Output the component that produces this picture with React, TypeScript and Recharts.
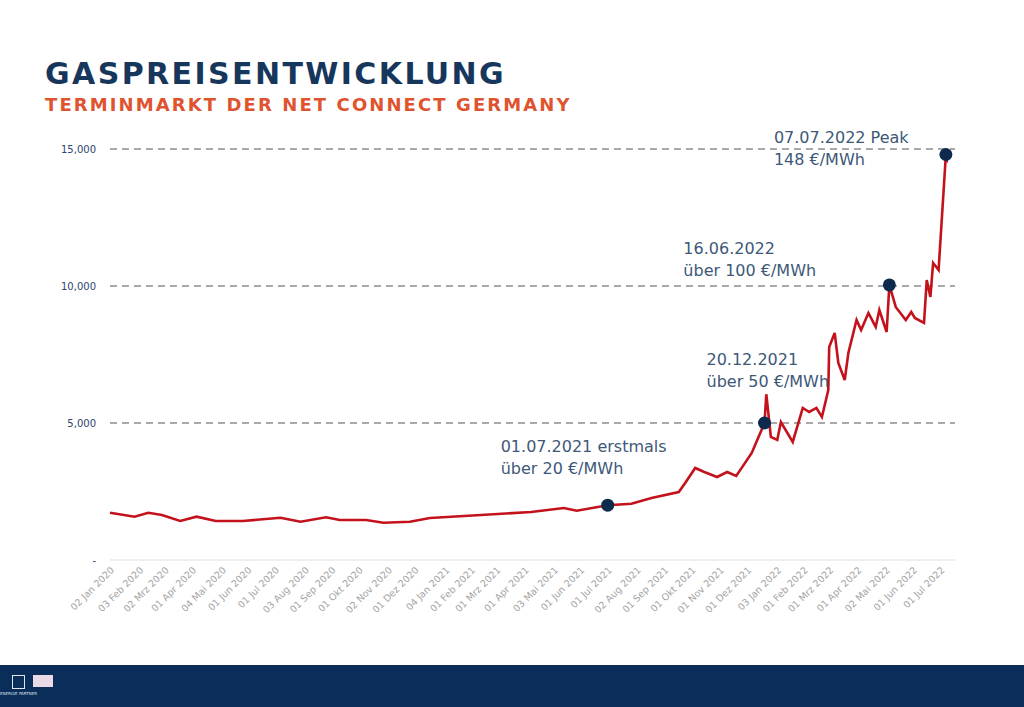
import { LineChart, Line, XAxis, YAxis, ReferenceLine, ReferenceDot } from "recharts";

// Gaspreis (Terminmarkt NCG), Werte wie im Original in ct-Skala (15,000 = 150 €/MWh)
const priceDates = [
  "2020-01-02", "2020-01-29", "2020-02-13", "2020-02-28", "2020-03-19", "2020-04-06",
  "2020-04-27", "2020-05-27", "2020-07-07", "2020-07-29", "2020-08-26", "2020-09-10",
  "2020-10-09", "2020-10-28", "2020-11-26", "2020-12-18", "2021-02-12", "2021-04-08",
  "2021-05-14", "2021-05-28", "2021-07-01", "2021-07-27", "2021-08-18", "2021-09-17",
  "2021-09-24", "2021-10-05", "2021-10-15", "2021-10-29", "2021-11-09", "2021-11-19",
  "2021-12-06", "2021-12-20", "2021-12-22", "2021-12-27", "2022-01-03", "2022-01-07",
  "2022-01-20", "2022-01-31", "2022-02-07", "2022-02-15", "2022-02-21", "2022-02-28",
  "2022-03-01", "2022-03-07", "2022-03-11", "2022-03-18", "2022-03-22", "2022-03-31",
  "2022-04-05", "2022-04-13", "2022-04-21", "2022-04-25", "2022-05-03", "2022-05-06",
  "2022-05-13", "2022-05-24", "2022-05-30", "2022-06-03", "2022-06-13", "2022-06-16",
  "2022-06-20", "2022-06-23", "2022-06-29", "2022-07-07", "2022-07-08",
];
const prices = [
  1726, 1580, 1726, 1643, 1424, 1580,
  1424, 1424, 1544, 1398, 1559, 1460,
  1460, 1362, 1398, 1533, 1643, 1752,
  1898, 1800, 2000, 2050, 2263, 2482,
  2810, 3358, 3212, 3030, 3212, 3066,
  3906, 5000, 6050, 4490, 4380, 5037,
  4307, 5548, 5402, 5548, 5220, 6205,
  7775, 8286, 7190, 6570, 7555, 8760,
  8395, 9015, 8505, 9125, 8322, 10040,
  9235, 8760, 9052, 8833, 8650, 10220,
  9600, 10840, 10585, 14800, 14500,
];

const tickDates = [
  "2020-01-02", "2020-02-03", "2020-03-02", "2020-04-01", "2020-05-04", "2020-06-01",
  "2020-07-01", "2020-08-03", "2020-09-01", "2020-10-01", "2020-11-02", "2020-12-01",
  "2021-01-04", "2021-02-01", "2021-03-01", "2021-04-01", "2021-05-03", "2021-06-01",
  "2021-07-01", "2021-08-02", "2021-09-01", "2021-10-01", "2021-11-01", "2021-12-01",
  "2022-01-03", "2022-02-01", "2022-03-01", "2022-04-01", "2022-05-02", "2022-06-01",
  "2022-07-01",
];
const tickLabels = [
  "02 Jan 2020", "03 Feb 2020", "02 Mrz 2020", "01 Apr 2020", "04 Mai 2020", "01 Jun 2020",
  "01 Jul 2020", "03 Aug 2020", "01 Sep 2020", "01 Okt 2020", "02 Nov 2020", "01 Dez 2020",
  "04 Jan 2021", "01 Feb 2021", "01 Mrz 2021", "01 Apr 2021", "03 Mai 2021", "01 Jun 2021",
  "01 Jul 2021", "02 Aug 2021", "01 Sep 2021", "01 Okt 2021", "01 Nov 2021", "01 Dez 2021",
  "03 Jan 2022", "01 Feb 2022", "01 Mrz 2022", "01 Apr 2022", "02 Mai 2022", "01 Jun 2022",
  "01 Jul 2022",
];

const yTicks = [0, 5000, 10000, 15000];
const gridLevels = [5000, 10000, 15000];

const markerDates = ["2021-07-01", "2021-12-20", "2022-05-06", "2022-07-07"];
const markerTexts = [
  ["01.07.2021 erstmals", "über 20 €/MWh"],
  ["20.12.2021", "über 50 €/MWh"],
  ["16.06.2022", "über 100 €/MWh"],
  ["07.07.2022 Peak", "148 €/MWh"],
];
// text offset relative to the dot (dx, baseline of first line)
const markerOffsets = [
  [-107, -53],
  [-58, -58],
  [-206, -31],
  [-172, -11],
];

const NAVY = "#0b2d5a";
const START = Date.parse("2020-01-02");
const dayOf = (iso: string) => Math.round((Date.parse(iso) - START) / 86400000);

const chartData = priceDates.map((d, i) => ({ day: dayOf(d), price: prices[i] }));
const tickDays = tickDates.map(dayOf);

const formatX = (v: number) => {
  const i = tickDays.indexOf(v);
  return i >= 0 ? tickLabels[i] : "";
};
const formatY = (v: number) => (v === 0 ? "-" : v.toLocaleString("en-US"));

function markerShape(lines: string[], off: number[]) {
  return (p: any) => (
    <g>
      <text
        x={p.cx + off[0]}
        y={p.cy + off[1]}
        fill="#3e5878"
        fontSize={16}
        fontFamily="DejaVu Sans, sans-serif"
      >
        <tspan x={p.cx + off[0]} dy="0">{lines[0]}</tspan>
        <tspan x={p.cx + off[0]} dy="22">{lines[1]}</tspan>
      </text>
      <circle cx={p.cx} cy={p.cy} r={6.5} fill="#0d2a4c" />
    </g>
  );
}

export default function App() {
  return (
    <div
      style={{
        position: "absolute",
        left: 0,
        top: 0,
        width: 1024,
        height: 707,
        background: "#ffffff",
        overflow: "hidden",
        fontFamily: "DejaVu Sans, sans-serif",
      }}
    >
      <div
        style={{
          position: "absolute",
          left: 45,
          top: 59,
          fontSize: 30,
          lineHeight: "30px",
          fontWeight: 700,
          color: "#17365c",
          letterSpacing: 2.4,
          whiteSpace: "nowrap",
        }}
      >
        GASPREISENTWICKLUNG
      </div>
      <div
        style={{
          position: "absolute",
          left: 45,
          top: 96,
          fontSize: 18,
          lineHeight: "18px",
          fontWeight: 700,
          color: "#e0532f",
          letterSpacing: 2.1,
          whiteSpace: "nowrap",
        }}
      >
        TERMINMARKT DER NET CONNECT GERMANY
      </div>

      <div style={{ position: "absolute", left: 0, top: 0 }}>
        <LineChart
          width={1024}
          height={707}
          data={chartData}
          margin={{ top: 149, right: 69, left: 0, bottom: 0 }}
        >
          <XAxis
            dataKey="day"
            type="number"
            domain={[0, 927]}
            ticks={tickDays}
            interval={0}
            tickFormatter={formatX}
            angle={-45}
            textAnchor="end"
            tickLine={false}
            tickSize={0}
            tickMargin={6}
            height={147}
            axisLine={{ stroke: "#e8e8e8", strokeWidth: 1.5 }}
            tick={{ fontSize: 9.5, fill: "#a4a4a4", fontFamily: "DejaVu Sans, sans-serif" }}
          />
          <YAxis
            type="number"
            domain={[0, 15000]}
            ticks={yTicks}
            tickFormatter={formatY}
            width={110}
            axisLine={false}
            tickLine={false}
            tickSize={0}
            tickMargin={14}
            tick={{ fontSize: 10, fill: "#2f4470", fontFamily: "DejaVu Sans, sans-serif" }}
          />
          {gridLevels.map((g) => (
            <ReferenceLine
              key={g}
              y={g}
              stroke="#8c8c8c"
              strokeWidth={1.3}
              strokeDasharray="7 5"
            />
          ))}
          <Line
            type="linear"
            dataKey="price"
            stroke="#c4121c"
            strokeWidth={2.6}
            dot={false}
            activeDot={false}
            isAnimationActive={false}
          />
          {markerDates.map((d, i) => (
            <ReferenceDot
              key={d}
              x={dayOf(d)}
              y={prices[priceDates.indexOf(d)]}
              r={6.5}
              shape={markerShape(markerTexts[i], markerOffsets[i])}
            />
          ))}
        </LineChart>
      </div>

      <div
        style={{
          position: "absolute",
          left: 0,
          top: 665,
          width: 1024,
          height: 42,
          background: NAVY,
        }}
      >
        <div style={{ position: "absolute", left: 12, top: 10, width: 11, height: 12, border: "1px solid #dfe6f0" }} />
        <div style={{ position: "absolute", left: 33, top: 10, width: 20, height: 12, background: "#e9d9e6" }} />
        <div
          style={{
            position: "absolute",
            left: 0,
            top: 26,
            fontSize: 4,
            color: "#dfe6f0",
            whiteSpace: "nowrap",
          }}
        >
          ENERGIE PARTNER
        </div>
      </div>
    </div>
  );
}
